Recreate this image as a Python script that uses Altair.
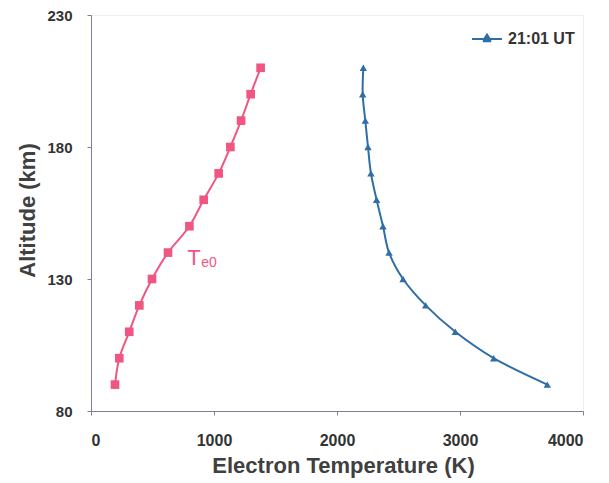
import altair as alt
import pandas as pd

# Electron temperature profiles versus altitude
altitude_km = [90, 100, 110, 120, 130, 140, 150, 160, 170, 180, 190, 200, 210]
te0_k = [195, 230, 311, 393, 496, 626, 800, 916, 1038, 1133, 1220, 1298, 1379]
te_2101_k = [3710, 3274, 2962, 2721, 2537, 2423, 2374, 2322, 2276, 2252, 2230, 2209, 2214]

series_name = "21:01 UT"
te0_label_pos = (782, 135.3)

pink = "#f05682"
blue = "#2f6ea6"
font = "Liberation Sans"
narrow_font = "Liberation Sans Narrow, Liberation Sans"

df_te0 = pd.DataFrame({"alt": altitude_km, "te": te0_k, "order": range(len(altitude_km))})
df_ut = pd.DataFrame({"alt": altitude_km, "te": te_2101_k, "order": range(len(altitude_km)),
                      "series": series_name})
df_lbl = pd.DataFrame({"te": [te0_label_pos[0]], "alt": [te0_label_pos[1]]})

x_scale = alt.Scale(domain=[0, 4000], nice=False)
y_scale = alt.Scale(domain=[80, 230], nice=False)

x_axis = alt.Axis(values=[0, 1000, 2000, 3000, 4000], format="d", title="Electron Temperature (K)",
                  grid=False, domainColor="#7d7d9c", tickColor="#7d7d9c", tickSize=4,
                  labelFont=font, labelFontSize=16, labelFontWeight="bold", labelColor="#333333",
                  labelPadding=17, titleFont=font, titleFontSize=22, titleFontWeight="bold",
                  titleColor="#404040", titleX=252, titleY=44)
y_axis = alt.Axis(values=[80, 130, 180, 230], title="Altitude (km)",
                  grid=False, domainColor="#7d7d9c", tickColor="#7d7d9c", tickSize=4,
                  labelFont=font, labelFontSize=15, labelFontWeight="bold", labelColor="#333333",
                  labelPadding=15, titleFont=font, titleFontSize=22, titleFontWeight="bold",
                  titleColor="#404040", titleX=-52, titleY=195)

x_enc = alt.X("te:Q", scale=x_scale, axis=x_axis)
y_enc = alt.Y("alt:Q", scale=y_scale, axis=y_axis)

te0_line = alt.Chart(df_te0).mark_line(color=pink, strokeWidth=2, interpolate="catmull-rom").encode(
    x=x_enc, y=y_enc, order="order:Q")
te0_pts = alt.Chart(df_te0).mark_point(shape="square", filled=True, color=pink, size=75, opacity=1).encode(
    x="te:Q", y="alt:Q")

legend_symbol = ("M-1,-0.06L-0.22,-0.06L0,-0.42L0.22,-0.06L1,-0.06L1,0.06L0.28,0.06"
                 "L0.28,0.22L-0.28,0.22L-0.28,0.06L-1,0.06Z")
color_enc = alt.Color("series:N", scale=alt.Scale(domain=[series_name], range=[blue]),
                      legend=alt.Legend(title=None, orient="none", legendX=381, legendY=9,
                                        symbolType=legend_symbol, symbolSize=900,
                                        symbolStrokeWidth=0, labelFont=font, labelFontSize=16,
                                        labelFontWeight="bold", labelColor="#333333",
                                        labelOffset=6))
ut_line = alt.Chart(df_ut).mark_line(strokeWidth=2, interpolate="catmull-rom").encode(
    x="te:Q", y="alt:Q", order="order:Q", color=color_enc)
ut_pts = alt.Chart(df_ut).mark_point(shape="triangle-up", filled=True, size=55, opacity=1).encode(
    x="te:Q", y="alt:Q", color=alt.Color("series:N", scale=alt.Scale(domain=[series_name], range=[blue]),
                                         legend=None))

te0_T = alt.Chart(df_lbl).mark_text(text="T", font=narrow_font, fontSize=22, color=pink, align="left",
                                     baseline="alphabetic").encode(x="te:Q", y="alt:Q")
te0_sub = alt.Chart(df_lbl).mark_text(text="e0", font=narrow_font, fontSize=14, color=pink, align="left",
                                       baseline="alphabetic", dx=14, dy=2).encode(x="te:Q", y="alt:Q")

chart = alt.layer(te0_line, te0_pts, ut_line, ut_pts, te0_T, te0_sub).properties(
    width=492, height=396,
    autosize=alt.AutoSizeParams(type="none"),
    padding={"left": 91, "top": 15, "right": 26, "bottom": 72},
    background="white",
).configure_view(stroke="#eeeeee", strokeWidth=1)

chart.save("out.html", embed_options={"renderer": "svg", "actions": False})
